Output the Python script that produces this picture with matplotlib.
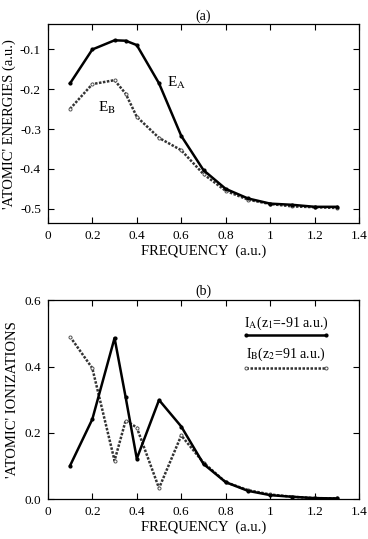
"""Atomic energies and ionizations vs frequency (two stacked panels)."""

import matplotlib

matplotlib.use("Agg")
import matplotlib.pyplot as plt
from matplotlib.lines import Line2D

plt.rcParams["font.family"] = ["Liberation Serif", "DejaVu Serif"]
plt.rcParams["mathtext.fontset"] = "stix"

freq = [0.1, 0.2, 0.3, 0.35, 0.4, 0.5, 0.6, 0.7, 0.8, 0.9, 1.0, 1.1, 1.2, 1.3]

energy_a = [-0.185, -0.100, -0.077, -0.078, -0.089, -0.185, -0.317, -0.403,
            -0.450, -0.474, -0.487, -0.490, -0.495, -0.495]
energy_b = [-0.249, -0.187, -0.177, -0.211, -0.269, -0.322, -0.353, -0.413,
            -0.455, -0.477, -0.488, -0.494, -0.496, -0.498]

ion_a = [0.101, 0.241, 0.486, 0.307, 0.122, 0.299, 0.219, 0.106,
         0.051, 0.025, 0.012, 0.007, 0.003, 0.002]
ion_b = [0.490, 0.395, 0.116, 0.237, 0.216, 0.033, 0.192, 0.110,
         0.051, 0.027, 0.014, 0.007, 0.003, 0.002]

x_ticks = [0, 0.2, 0.4, 0.6, 0.8, 1.0, 1.2, 1.4]
x_tick_labels = ["0", "0.2", "0.4", "0.6", "0.8", "1", "1.2", "1.4"]

SOLID = dict(color="black", linewidth=1.8, marker="o", markersize=2.0)
DOTTED = dict(color="#333333", linewidth=1.8, linestyle=(0, (1, 0.6)), marker="o",
              markersize=2.2, markerfacecolor="white", markeredgecolor="#555555",
              markeredgewidth=0.7)

fig = plt.figure(figsize=(3.68, 5.39), dpi=100)
ax1 = fig.add_axes([0.130, 0.586, 0.846, 0.3695])
ax2 = fig.add_axes([0.130, 0.074, 0.846, 0.369])


def style_axis(ax):
    ax.set_xlim(0, 1.4)
    ax.set_xticks(x_ticks)
    ax.set_xticklabels(x_tick_labels)
    ax.tick_params(direction="in", top=True, right=True, labelsize=9.5, length=4,
                   width=0.8, pad=5)
    for spine in ax.spines.values():
        spine.set_linewidth(0.9)
    ax.set_xlabel("FREQUENCY  (a.u.)", fontsize=10.5, labelpad=2)


# (a) energies
ax1.plot(freq, energy_b, **DOTTED)
ax1.plot(freq, energy_a, **SOLID)
style_axis(ax1)
ax1.set_ylim(-0.536, -0.036)
ax1.set_yticks([-0.1, -0.2, -0.3, -0.4, -0.5])
ax1.set_yticklabels(["-0.1", "-0.2", "-0.3", "-0.4", "-0.5"])
ax1.set_ylabel("'ATOMIC' ENERGIES (a.u.)", fontsize=10.5, labelpad=3)
ax1.set_title("(a)", fontsize=10, pad=3)
ax1.text(0.58, -0.185, r"E$_\mathrm{A}$", fontsize=11, ha="center", va="center")
ax1.text(0.265, -0.247, r"E$_\mathrm{B}$", fontsize=11, ha="center", va="center")

# (b) ionizations
ax2.plot(freq, ion_b, **DOTTED)
ax2.plot(freq, ion_a, **SOLID)
style_axis(ax2)
ax2.set_ylim(0, 0.6)
ax2.set_yticks([0.0, 0.2, 0.4, 0.6])
ax2.set_yticklabels(["0.0", "0.2", "0.4", "0.6"])
ax2.set_ylabel("'ATOMIC' IONIZATIONS", fontsize=10.5, labelpad=4)
ax2.set_title("(b)", fontsize=10, pad=4)

# hand-made legend: label above a short sample line
for label, style, y_line, y_text in [
    (r"I$_\mathrm{A}$(z$_1$=-91 a.u.)", SOLID, 0.824, 0.884),
    (r"I$_\mathrm{B}$(z$_2$=91 a.u.)", DOTTED, 0.658, 0.729),
]:
    kw = dict(style)
    kw["markevery"] = [0, 1]
    ax2.add_line(Line2D([0.637, 0.894], [y_line, y_line], transform=ax2.transAxes, **kw))
    ax2.text(0.765, y_text, label, transform=ax2.transAxes, fontsize=10,
             ha="center", va="center")

fig.savefig("out.png", dpi=100)
